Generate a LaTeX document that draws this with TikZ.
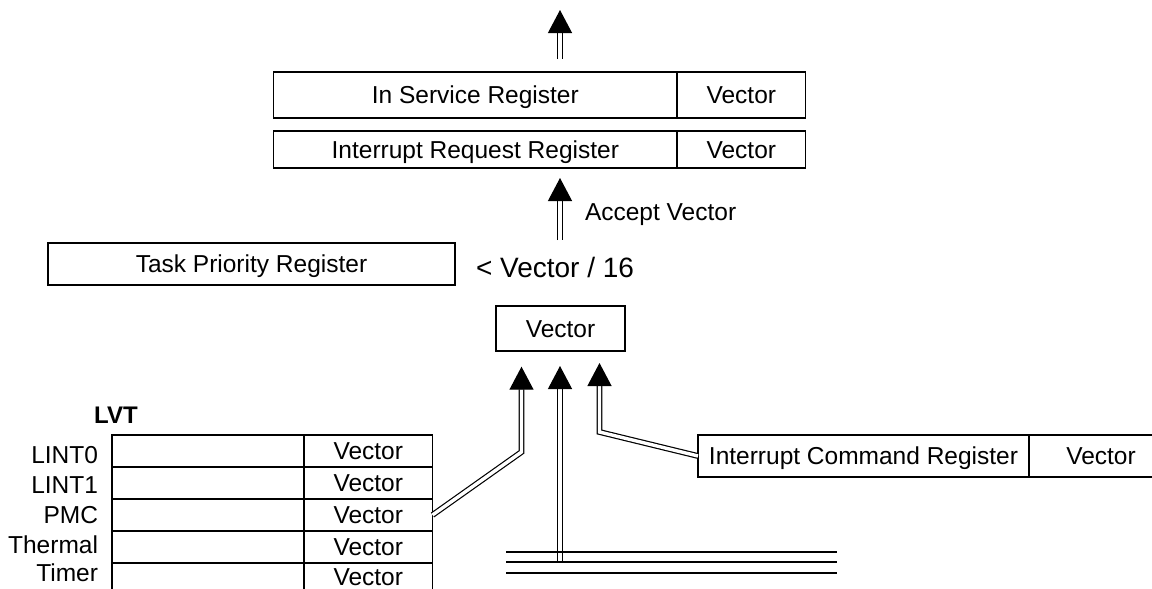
\documentclass[tikz,border=0pt]{standalone}
\usepackage{fontspec}
\setmainfont{Liberation Sans}
\usetikzlibrary{arrows.meta}
\begin{document}
\begin{tikzpicture}[x=1pt,y=-1pt,
  every node/.style={inner sep=0pt, outer sep=0pt, font=\fontsize{24.5}{29}\selectfont, text height=17.5pt, text depth=0pt},
  cell/.style={draw, line width=1.3pt},
  dbl/.style={double, double distance=3.4pt, line width=1.2pt, -{Triangle[width=24pt,length=23pt]}},
  bus/.style={line width=1.5pt}]
\useasboundingbox (0,0) rectangle (1152,589);

% top register boxes
\node[cell, minimum width=403.4pt, minimum height=46pt] (isr) at (475.3,95) {In Service Register};
\node[cell, minimum width=128.7pt, minimum height=46pt] (isrv) at (741.35,95) {Vector};
\node[cell, minimum width=403.4pt, minimum height=37pt] (irr) at (475.3,149.5) {Interrupt Request Register};
\node[cell, minimum width=128.7pt, minimum height=37pt] (irrv) at (741.35,149.5) {Vector};

\coordinate (outS) at (560,59);
\coordinate (outT) at (560,10);
\draw[dbl] (outS) -- (outT);

\node[anchor=west] (acc) at (585,212) {Accept Vector};
\coordinate (accS) at (560,240);
\coordinate (accT) at (560,178);
\draw[dbl] (accS) -- (accT);

\node[cell, minimum width=407pt, minimum height=42pt] (tpr) at (251.5,264) {Task Priority Register};
\node[font=\fontsize{28}{33}\selectfont, text height=20pt] (cmp) at (555,267) {< Vector / 16};

\node[cell, minimum width=129pt, minimum height=45pt] (vec) at (560.5,328.5) {Vector};

% LVT
\node[font=\bfseries\fontsize{24}{29}\selectfont] (lvt) at (116,415) {LVT};
\node[anchor=east] (l0) at (98,455) {LINT0};
\node[anchor=east] (l1) at (98,485) {LINT1};
\node[anchor=east] (l2) at (98,515) {PMC};
\node[anchor=east] (l3) at (98,545) {Thermal};
\node[anchor=east] (l4) at (98,573) {Timer};

\node[cell, minimum width=192pt, minimum height=32pt] (lvtA1) at (208,451) {};
\node[cell, minimum width=128.5pt, minimum height=32pt] (lvtV1) at (368.25,451) {Vector};
\node[cell, minimum width=192pt, minimum height=32pt] (lvtA2) at (208,483) {};
\node[cell, minimum width=128.5pt, minimum height=32pt] (lvtV2) at (368.25,483) {Vector};
\node[cell, minimum width=192pt, minimum height=32pt] (lvtA3) at (208,515) {};
\node[cell, minimum width=128.5pt, minimum height=32pt] (lvtV3) at (368.25,515) {Vector};
\node[cell, minimum width=192pt, minimum height=32pt] (lvtA4) at (208,547) {};
\node[cell, minimum width=128.5pt, minimum height=32pt] (lvtV4) at (368.25,547) {Vector};
\draw[cell] (lvtA4.south west) -- ++(0,26);
\draw[cell] (lvtA4.south east) -- ++(0,26);
\draw[cell] (lvtV4.south east) -- ++(0,26);
\node (lvtV5) at (368.25,576.5) {Vector};

% Interrupt Command Register
\node[cell, minimum width=331pt, minimum height=42pt] (icr) at (863.5,456) {Interrupt Command Register};
\draw[cell] (icr.north east) -- (1152,435);
\draw[cell] (icr.south east) -- (1152,477);
\node (icrv) at (1101,456) {Vector};

% connectors into Vector
\coordinate (tL) at (521.5,366.7);
\coordinate (tM) at (560,366);
\coordinate (tR) at (599.5,363);
\coordinate (busM) at (560,562);
\draw[dbl] (lvtV3.east) -- (521.5,452) -- (tL);
\draw[dbl] (busM) -- (tM);
\draw[dbl] (icr.west) -- (599.5,432) -- (tR);

% bus lines
\coordinate (b1a) at (506,552); \coordinate (b1b) at (837,552);
\coordinate (b2a) at (506,562); \coordinate (b2b) at (837,562);
\coordinate (b3a) at (506,573); \coordinate (b3b) at (837,573);
\draw[bus] (b1a) -- (b1b);
\draw[bus] (b2a) -- (b2b);
\draw[bus] (b3a) -- (b3b);
\end{tikzpicture}
\end{document}
